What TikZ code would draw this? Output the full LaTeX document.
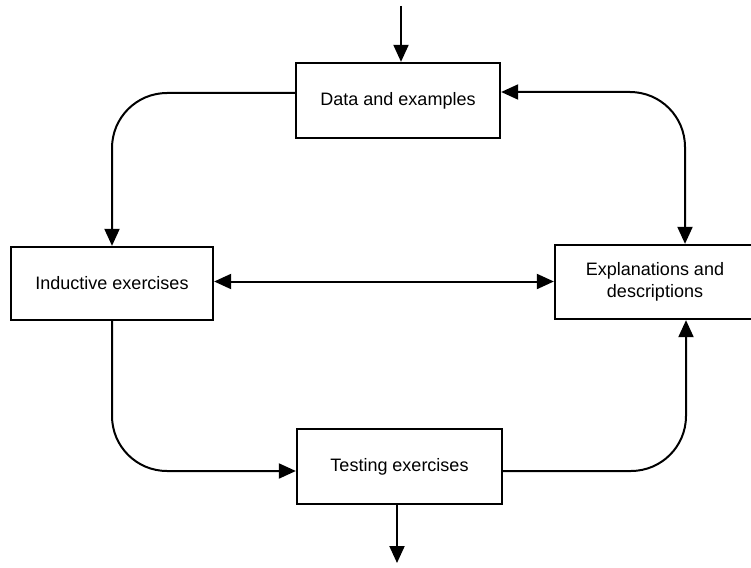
\documentclass[tikz,border=0pt]{standalone}
\usepackage{fontspec}
\setmainfont{Liberation Sans}
\usetikzlibrary{arrows.meta,positioning}

\begin{document}
\begin{tikzpicture}[x=1pt,y=-1pt,
  box/.style={draw,line width=2.3pt,inner sep=0pt,align=center,font=\fontsize{18}{22}\selectfont},
  arr/.style={line width=2pt,-{Triangle[length=17pt,width=15pt]}},
  arrboth/.style={line width=2pt,{Triangle[length=17pt,width=15pt]}-{Triangle[length=17pt,width=15pt]}}]
\useasboundingbox (0,0) rectangle (751,567);
\clip (0,0) rectangle (751,567);
\node[box,minimum width=204pt,minimum height=75pt] (data) at (398,100.5){Data and examples};
\node[box,minimum width=202pt,minimum height=73pt] (induct) at (112,283.5){Inductive exercises};
\node[box,minimum width=200pt,minimum height=74pt] (expl) at (655,282){Explanations and\\descriptions};
\node[box,minimum width=205pt,minimum height=75pt] (test) at (399.5,466.5){Testing exercises};
\coordinate (in) at (401,6);\coordinate (out) at (397,563);
\draw[arr] (in) -- (in |- data.north);
\draw[arr] (test.south -| out) -- (out);
\draw[arr,rounded corners=55pt] ([yshift=7.5pt]data.west) -| (induct.north);
\draw[arrboth,rounded corners=55pt] ([yshift=8.5pt]data.east) -| ([xshift=30pt]expl.north);
\draw[arrboth] ([yshift=2pt]induct.east) -- ([yshift=2pt]induct.east -| expl.west);
\draw[arr,rounded corners=55pt] (induct.south) |- ([yshift=-4.5pt]test.west);
\draw[arr,rounded corners=55pt] ([yshift=-4.5pt]test.east) -| ([xshift=31pt]expl.south);
\end{tikzpicture}
\end{document}
